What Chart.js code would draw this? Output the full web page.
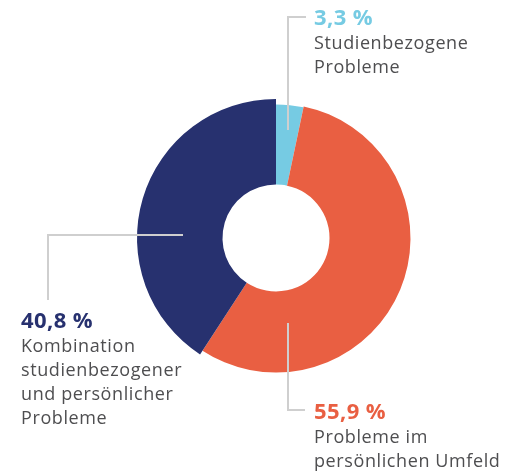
<!DOCTYPE html>
<html>
<head>
<meta charset="utf-8">
<script src="https://cdn.jsdelivr.net/npm/chart.js@4"></script>
<style>
  html, body { margin: 0; padding: 0; background: #fff; }
  #wrap { width: 506px; height: 472px; }
</style>
</head>
<body>
<div id="wrap"><canvas id="myChart" width="506" height="472"></canvas></div>
<script>
  // data
  const categories = ['Studienbezogene Probleme', 'Probleme im persönlichen Umfeld', 'Kombination studienbezogener und persönlicher Probleme'];
  const values = [3.3, 55.9, 40.8];
  const labelLines = [
    ['Studienbezogene', 'Probleme'],
    ['Probleme im', 'persönlichen Umfeld'],
    ['Kombination', 'studienbezogener', 'und persönlicher', 'Probleme']
  ];
  const colors = ['#76cbe3', '#e95f42', '#27316f'];

  // the slices are not all the same size in the original
  const radiusInset = [5.5, 4.5, 0];

  // label placement: text x / first baseline, connector polyline
  const callouts = [
    { x: 314, y: 25, line: [[306, 17], [288, 17], [288, 130]] },
    { x: 314, y: 419, line: [[288, 323], [288, 410], [305, 410]] },
    { x: 21, y: 328, line: [[183, 235], [48, 235], [48, 300]] }
  ];

  const fmt = v => v.toFixed(1).replace('.', ',') + ' %';

  const sliceRadius = {
    id: 'sliceRadius',
    afterDatasetsUpdate(chart) {
      chart.getDatasetMeta(0).data.forEach((arc, i) => {
        arc.outerRadius -= radiusInset[i];
      });
    }
  };

  const callout = {
    id: 'callout',
    afterDatasetsDraw(chart) {
      const c = chart.ctx;
      c.save();
      c.strokeStyle = '#cfcfcf';
      c.lineWidth = 2;
      callouts.forEach(co => {
        c.beginPath();
        co.line.forEach((p, j) => j ? c.lineTo(p[0], p[1]) : c.moveTo(p[0], p[1]));
        c.stroke();
      });
      c.textBaseline = 'alphabetic';
      c.textAlign = 'left';
      callouts.forEach((co, i) => {
        c.fillStyle = colors[i];
        c.font = 'bold 22px "Open Sans"';
        c.letterSpacing = '0.4px';
        c.fillText(fmt(values[i]), co.x, co.y);
        c.fillStyle = '#4e4e50';
        c.font = '500 18px "Open Sans"';
        c.letterSpacing = '0.6px';
        labelLines[i].forEach((t, k) => c.fillText(t, co.x, co.y + 24 * (k + 1)));
      });
      c.restore();
    }
  };

  const ctx = document.getElementById('myChart').getContext('2d');
  const myChart = new Chart(ctx, {
    type: 'doughnut',
    data: {
      labels: categories,
      datasets: [{
        data: values,
        backgroundColor: colors,
        borderWidth: 0
      }]
    },
    options: {
      responsive: false,
      animation: false,
      radius: 139,
      cutout: '38.5%',
      layout: { padding: { left: 46, right: 0, top: 4, bottom: 0 } },
      plugins: {
        legend: { display: false },
        tooltip: { enabled: false }
      }
    },
    plugins: [sliceRadius, callout]
  });
</script>
</body>
</html>
